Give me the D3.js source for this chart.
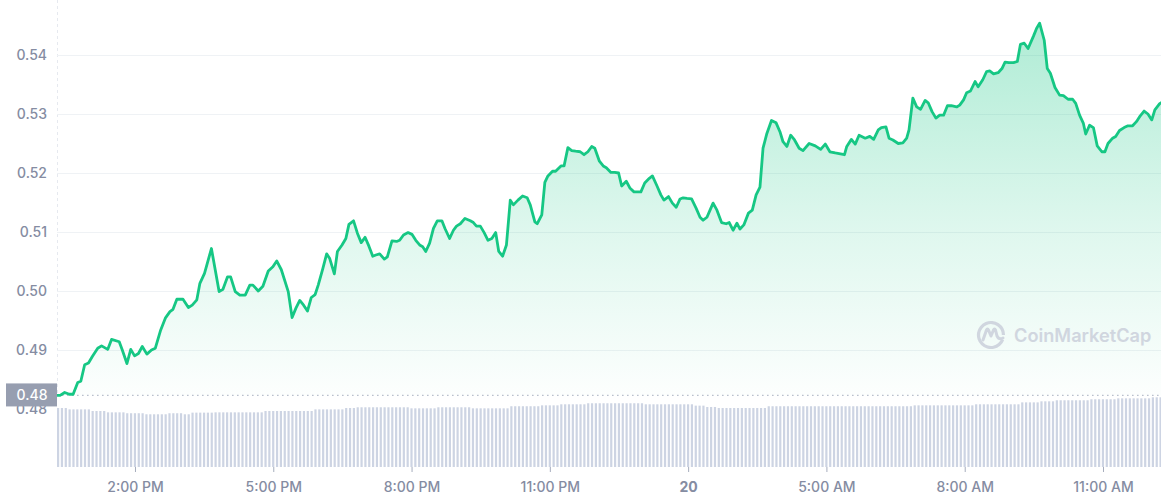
<!DOCTYPE html>
<html>
<head>
<meta charset="utf-8">
<script src="https://cdn.jsdelivr.net/npm/d3@7/dist/d3.min.js"></script>
<style>
  html, body { margin: 0; padding: 0; background: #ffffff; }
  svg { display: block; font-family: Inter, "Noto Sans", "DejaVu Sans", sans-serif; }
</style>
</head>
<body>
<svg id="chart" width="1161" height="500"></svg>
<script>
// ---- Data ----
// minutes after the start of the 24h window (start: 12:18 PM, 19th)
const minutes = [
  0,4,10,16,21,27,31,36,41,46,53,58,66,71,81,85,91,96,101,106,111,117,123,128,135,141,147,151,156,164,
  171,176,182,186,192,201,211,216,222,226,232,238,245,251,255,262,268,275,281,286,292,301,306,311,316,321,326,331,336,
  340,346,351,355,361,365,371,376,380,386,391,396,401,406,411,415,420,426,430,436,442,446,451,457,462,467,472,476,480,485,
  490,495,501,505,511,516,520,525,531,538,542,546,551,556,561,566,571,575,580,585,590,594,600,606,612,616,622,625,631,
  635,639,645,649,656,660,665,670,675,681,686,691,696,700,706,711,715,721,726,731,735,741,746,751,760,765,771,775,781,786,
  790,796,801,806,811,815,820,826,832,837,841,846,850,854,859,865,871,875,880,885,889,894,900,905,910,915,919,924,930,936,
  941,945,950,955,960,966,971,
  979,987,994,1000,1006,1013,1018,1025,1028,1034,1039,1044,1052,1058,1063,1069,1073,1079,1083,1088,
  1095,1101,1106,1109,1114,1119,1124,1130,1134,1139,1144,1149,1154,1159,1164,1171,1175,1180,1184,1189,
  1195,1199,1205,1210,1214,1219,1225,1230,1234,1239,1245,1250,1254,1259,1264,1271,1275,1279,1285,1289,
  1293,1299,1305,1310,1316,1322,1326,1331,1336,1339,1344,1349,1354,1360,1364,1368,1374,1378,1383,1389,
  1394,1400,1405,1410,1415,1420,1425,1429,1435,1437
];
const prices = [
  0.4823,0.4823,0.4828,0.4825,0.4825,0.4845,0.4847,0.4875,0.4878,0.4889,0.4903,0.4907,0.4901,0.4918,0.4914,0.4900,0.4877,0.4901,0.4890,0.4894,
  0.4906,0.4893,0.4900,0.4903,0.4934,0.4954,0.4965,0.4969,0.4986,0.4986,0.4972,0.4976,0.4985,0.5013,0.5030,0.5072,0.4999,0.5003,0.5024,0.5024,
  0.4999,0.4993,0.4993,0.5010,0.5010,0.5000,0.5008,0.5034,0.5041,0.5051,0.5036,0.4999,0.4955,0.4971,0.4984,0.4976,0.4966,0.4989,0.4994,
  0.5010,0.5038,0.5063,0.5055,0.5029,0.5067,0.5078,0.5089,0.5113,0.5119,0.5098,0.5082,0.5091,0.5076,0.5059,0.5061,0.5063,0.5054,0.5058,0.5085,
  0.5084,0.5086,0.5095,0.5099,0.5096,0.5086,0.5078,0.5075,0.5067,0.5081,0.5106,0.5119,0.5119,0.5106,0.5089,0.5103,0.5110,0.5114,0.5123,0.5119,
  0.5116,0.5110,0.5110,0.5099,0.5086,0.5089,0.5099,0.5067,0.5059,0.5078,0.5154,0.5146,0.5154,0.5161,0.5158,0.5146,0.5117,0.5114,0.5129,
  0.5184,0.5195,0.5203,0.5203,0.5212,0.5212,0.5243,0.5238,0.5237,0.5236,0.5231,0.5236,0.5245,0.5242,0.5220,0.5212,0.5209,0.5201,0.5201,0.5200,
  0.5178,0.5186,0.5174,0.5168,0.5168,0.5183,0.5191,0.5195,0.5178,0.5163,0.5154,0.5160,0.5149,0.5142,0.5156,0.5158,0.5157,0.5156,0.5140,0.5125,
  0.5120,0.5125,0.5137,0.5149,0.5137,0.5116,0.5114,0.5116,0.5103,0.5115,0.5105,0.5112,0.5132,0.5137,0.5163,0.5176,0.5242,0.5267,0.5289,0.5285,
  0.5270,0.5253,0.5245,0.5264,0.5256,0.5242,0.5238,
  0.5250,0.5246,0.5240,0.5249,0.5236,0.5234,0.5233,0.5231,0.5245,0.5257,0.5249,0.5264,0.5259,0.5262,0.5257,0.5273,0.5277,0.5278,0.5259,0.5256,
  0.5250,0.5251,0.5259,0.5273,0.5327,0.5312,0.5308,0.5323,0.5319,0.5304,0.5293,0.5298,0.5298,0.5314,0.5314,0.5312,0.5315,0.5324,0.5336,0.5339,
  0.5355,0.5346,0.5358,0.5372,0.5373,0.5368,0.5370,0.5377,0.5388,0.5387,0.5387,0.5389,0.5418,0.5420,0.5411,0.5432,0.5445,0.5454,0.5425,0.5377,
  0.5369,0.5345,0.5332,0.5331,0.5325,0.5325,0.5318,0.5298,0.5284,0.5266,0.5281,0.5277,0.5246,0.5236,0.5236,0.5250,0.5259,0.5262,0.5272,0.5277,
  0.5280,0.5280,0.5287,0.5297,0.5305,0.5300,0.5290,0.5307,0.5317,0.5319
];
// 24h volume (millions USD), one bar per 5-minute step
const volumes = [
  396,396,396,387,387,387,387,387,387,376,376,376,376,367,367,367,367,367,361,361,361,361,361,354,354,354,354,354,354,361,
  361,361,361,354,354,365,365,365,365,365,365,367,367,367,367,367,367,367,367,367,367,367,367,367,376,376,376,376,376,376,
  376,376,376,376,376,376,376,387,387,387,387,387,387,387,387,396,396,396,401,401,401,401,401,401,401,401,401,401,401,401,
  401,401,394,394,394,394,394,394,394,401,401,401,401,401,401,401,401,401,394,394,394,394,394,394,394,394,394,394,408,408,
  408,408,408,408,408,408,414,414,414,414,414,421,421,421,421,421,421,421,428,428,428,428,428,428,428,428,428,428,428,428,
  428,428,428,421,421,421,421,421,421,421,421,421,421,421,421,421,412,412,412,403,403,403,396,396,396,396,396,396,396,396,
  396,396,396,396,396,408,408,408,408,408,408,408,408,408,408,408,408,408,408,408,408,408,408,408,408,408,408,408,408,408,
  408,408,408,408,408,408,408,408,408,408,408,408,408,414,414,414,414,414,414,414,414,414,414,414,414,414,414,414,414,421,
  421,421,421,421,421,421,421,421,421,421,421,434,434,434,434,434,441,441,441,441,448,448,448,448,448,448,448,448,448,455,
  455,455,455,455,455,455,461,461,461,461,461,461,461,461,461,468,468,468
];
const yTickValues = [0.48, 0.49, 0.50, 0.51, 0.52, 0.53, 0.54];
const startTime = new Date(Date.UTC(2023, 1, 19, 12, 18, 30));
const spanMinutes = 1437;

// ---- Layout ----
const W = 1161, H = 500;
const plotLeft = 57, plotRight = 1161;
const svg = d3.select("#chart");

const x = d3.scaleUtc()
  .domain([startTime, d3.utcMinute.offset(startTime, spanMinutes)])
  .range([plotLeft, plotRight]);
const y = d3.scaleLinear().domain([0.48, 0.54]).range([409, 55]);
const yVol = d3.scaleLinear().domain([0, 470]).range([467, 397]);

const pts = minutes.map((m, i) => ({ t: new Date(startTime.getTime() + m * 60000), p: prices[i] }));
const vols = volumes.map((v, i) => ({ t: new Date(startTime.getTime() + i * 5 * 60000), v }));

// gradient
const defs = svg.append("defs");
const grad = defs.append("linearGradient")
  .attr("id", "areaGrad").attr("gradientUnits", "userSpaceOnUse")
  .attr("x1", 0).attr("x2", 0).attr("y1", y(0.545)).attr("y2", y(prices[0]));
grad.append("stop").attr("offset", "0%").attr("stop-color", "#16c784").attr("stop-opacity", 0.34);
grad.append("stop").attr("offset", "55%").attr("stop-color", "#16c784").attr("stop-opacity", 0.14);
grad.append("stop").attr("offset", "100%").attr("stop-color", "#16c784").attr("stop-opacity", 0.01);

// left vertical dashed line
svg.append("line")
  .attr("x1", plotLeft + 0.5).attr("x2", plotLeft + 0.5)
  .attr("y1", 0).attr("y2", y(prices[0]))
  .attr("stroke", "#e6e9ef").attr("stroke-dasharray", "3,3");

// grid lines
svg.append("g").selectAll("line")
  .data(yTickValues.filter(d => d > 0.485))
  .join("line")
  .attr("x1", plotLeft).attr("x2", plotRight)
  .attr("y1", d => Math.round(y(d)) + 0.5).attr("y2", d => Math.round(y(d)) + 0.5)
  .attr("stroke", "#eff2f5").attr("stroke-width", 1);

// area
const area = d3.area().x(d => x(d.t)).y0(y(prices[0])).y1(d => y(d.p));
svg.append("path").datum(pts).attr("d", area).attr("fill", "url(#areaGrad)");

// volume bars
svg.append("g").selectAll("rect")
  .data(vols)
  .join("rect")
  .attr("x", d => x(d.t))
  .attr("width", 2.2)
  .attr("y", d => yVol(d.v))
  .attr("height", d => yVol(0) - yVol(d.v))
  .attr("fill", "#cdd4e3");

// dotted baseline at start price
svg.append("line")
  .attr("x1", plotLeft).attr("x2", plotRight)
  .attr("y1", y(prices[0])).attr("y2", y(prices[0]))
  .attr("stroke", "#b9c0cd").attr("stroke-width", 1.2)
  .attr("stroke-dasharray", "1.6,3.4");

// price line
const line = d3.line().x(d => x(d.t)).y(d => y(d.p));
svg.append("path").datum(pts).attr("d", line)
  .attr("fill", "none").attr("stroke", "#16c784").attr("stroke-width", 2.8)
  .attr("stroke-linejoin", "round").attr("stroke-linecap", "round");

// y axis labels
const yAxis = d3.axisLeft(y).tickValues(yTickValues).tickFormat(d3.format(".2f")).tickSize(0).tickPadding(0);
const gy = svg.append("g").attr("transform", `translate(${plotLeft - 10},0)`).call(yAxis);
gy.select(".domain").remove();
gy.selectAll("text")
  .attr("fill", "#858ca2").attr("font-size", 14).attr("font-weight", 500)
  .attr("font-family", "Inter, 'Noto Sans', sans-serif");

// start price label box
const boxG = svg.append("g");
boxG.append("rect")
  .attr("x", 6).attr("y", y(prices[0]) - 12).attr("width", plotLeft - 6).attr("height", 23)
  .attr("fill", "#979eb0");
boxG.append("text")
  .attr("x", (6 + plotLeft) / 2 + 0.5).attr("y", y(prices[0]) + 0.5)
  .attr("text-anchor", "middle").attr("dominant-baseline", "middle")
  .attr("fill", "#ffffff").attr("font-size", 14).attr("font-weight", 500)
  .text(d3.format(".2f")(prices[0]));

// x axis
const xTicks = d3.utcHour.range(d3.utcHour.offset(d3.utcDay.floor(startTime), 14), x.domain()[1], 3);
const timeFmt = d3.utcFormat("%-I:%M %p");
const isNewDay = (d, i) => i > 0 && d.getUTCDate() !== xTicks[i - 1].getUTCDate();
const xAxis = d3.axisBottom(x)
  .tickValues(xTicks)
  .tickSize(5).tickPadding(10)
  .tickFormat((d, i) => isNewDay(d, i) ? d3.utcFormat("%-d")(d) : timeFmt(d));
const gx = svg.append("g").attr("transform", `translate(0,467)`).call(xAxis);
gx.select(".domain").remove();
gx.selectAll("line").attr("stroke", "#a6adbd");
gx.selectAll("text")
  .attr("fill", "#858ca2").attr("font-size", 14).attr("font-weight", 500)
  .attr("font-family", "Inter, 'Noto Sans', sans-serif")
  .filter((d, i) => isNewDay(d, i))
  .attr("font-weight", 700);

// watermark
const wm = svg.append("g").attr("opacity", 0.9);
const cx = 991, cy = 335, r = 12.5;
wm.append("path")
  .attr("d", d3.arc()({ innerRadius: r - 1.6, outerRadius: r + 1.6, startAngle: Math.PI * 0.62, endAngle: Math.PI * 2.5 }))
  .attr("transform", `translate(${cx},${cy})`)
  .attr("fill", "#cdd2dd");
wm.append("path")
  .attr("d", `M${cx - 8},${cy + 5} L${cx - 4.5},${cy - 5} Q${cx - 3.5},${cy - 7} ${cx - 2.5},${cy - 5} L${cx},${cy + 1} L${cx + 2.5},${cy - 5} Q${cx + 3.5},${cy - 7} ${cx + 4.5},${cy - 5} L${cx + 6},${cy + 1} Q${cx + 8},${cy + 5} ${cx + 12},${cy + 3}`)
  .attr("fill", "none").attr("stroke", "#cdd2dd").attr("stroke-width", 3)
  .attr("stroke-linejoin", "round").attr("stroke-linecap", "round");
wm.append("text")
  .attr("x", 1014).attr("y", cy + 7)
  .attr("fill", "#cdd2dd").attr("font-size", 18.2).attr("font-weight", 600)
  .attr("font-family", "Inter, 'Noto Sans', sans-serif")
  .text("CoinMarketCap");
</script>
</body>
</html>
